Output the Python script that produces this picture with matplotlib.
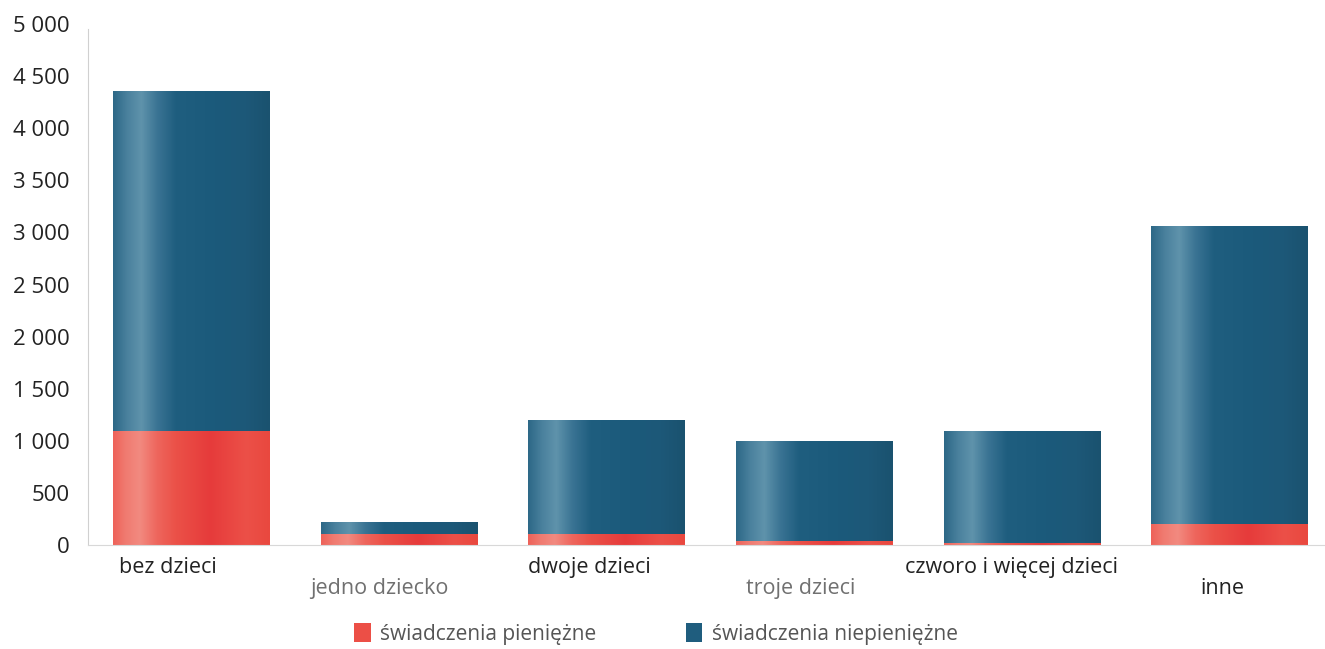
import matplotlib.pyplot as plt
import numpy as np
from matplotlib.colors import LinearSegmentedColormap
from matplotlib.patches import Patch

kategorie = ['bez dzieci', 'jedno dziecko', 'dwoje dzieci', 'troje dzieci',
             'czworo i więcej dzieci', 'inne']
pieniezne = [1095, 105, 105, 40, 22, 200]
niepieniezne = [3255, 110, 1085, 958, 1072, 2852]
kolory_etykiet = ['#222222', '#707070', '#222222', '#707070', '#222222', '#222222']

plt.rcParams['font.family'] = ['Open Sans', 'DejaVu Sans']

# cylinder-like shading across each bar
niebieski = LinearSegmentedColormap.from_list('nieb', [
    (0.0, '#2d6887'), (0.09, '#4a819d'), (0.18, '#5f93ab'), (0.28, '#3b7494'),
    (0.4, '#1f5e7f'), (0.65, '#1b5a7b'), (0.85, '#1d5878'), (1.0, '#1a526f')])
czerwony = LinearSegmentedColormap.from_list('czer', [
    (0.0, '#ee6259'), (0.08, '#f07b71'), (0.17, '#f28a80'), (0.28, '#ee665d'),
    (0.4, '#eb5148'), (0.62, '#e63b3b'), (0.85, '#ec5048'), (1.0, '#e9483f')])
grad = np.linspace(0, 1, 256).reshape(1, -1)

fig = plt.figure(figsize=(13.25, 6.49), dpi=100)
ax = fig.add_axes([0.0664, 0.160, 0.9336, 0.803])

x = np.arange(len(kategorie))
szer = 0.756
b1 = ax.bar(x, pieniezne, szer, color='#e94a42')
b2 = ax.bar(x, niepieniezne, szer, bottom=pieniezne, color='#1d5a7a')

for bars, cmap in ((b1, czerwony), (b2, niebieski)):
    for p in bars:
        x0, y0 = p.get_x(), p.get_y()
        ax.imshow(grad, cmap=cmap, aspect='auto', interpolation='bilinear',
                  extent=(x0, x0 + p.get_width(), y0, y0 + p.get_height()),
                  zorder=2)
        p.set_visible(False)

ax.set_xlim(-0.5, 5.46)
ax.set_ylim(0, 5000)
ax.set_yticks(range(0, 5001, 500))
ax.set_yticklabels([f'{v:,}'.replace(',', ' ') for v in range(0, 5001, 500)],
                   fontsize=16, color='#222222')
ax.tick_params(axis='y', length=0, pad=13)
ax.set_xticks([])

for i, (k, c) in enumerate(zip(kategorie, kolory_etykiet)):
    dy = -16 if i % 2 == 0 else -31
    dx = -17 + i * 2.3
    ax.annotate(k, (i, 0), xytext=(dx, dy), textcoords='offset points',
                ha='center', va='center', fontsize=15.5, color=c,
                annotation_clip=False)

for s in ['top', 'right']:
    ax.spines[s].set_visible(False)
ax.spines['left'].set_color('#d0d0d0')
ax.spines['bottom'].set_color('#d8d8d8')
ax.spines['left'].set_bounds(0, 4950)

uchwyty = [Patch(facecolor='#ec4f46', label='świadczenia pieniężne'),
           Patch(facecolor='#1f5d7e', label='świadczenia niepieniężne')]
fig.legend(handles=uchwyty, loc='center', bbox_to_anchor=(0.495, 0.023),
           ncol=2, frameon=False, fontsize=15, labelcolor='#555555',
           handlelength=0.8, handleheight=1.0, handletextpad=0.45,
           columnspacing=4.3)

fig.savefig('out.png', dpi=100)
